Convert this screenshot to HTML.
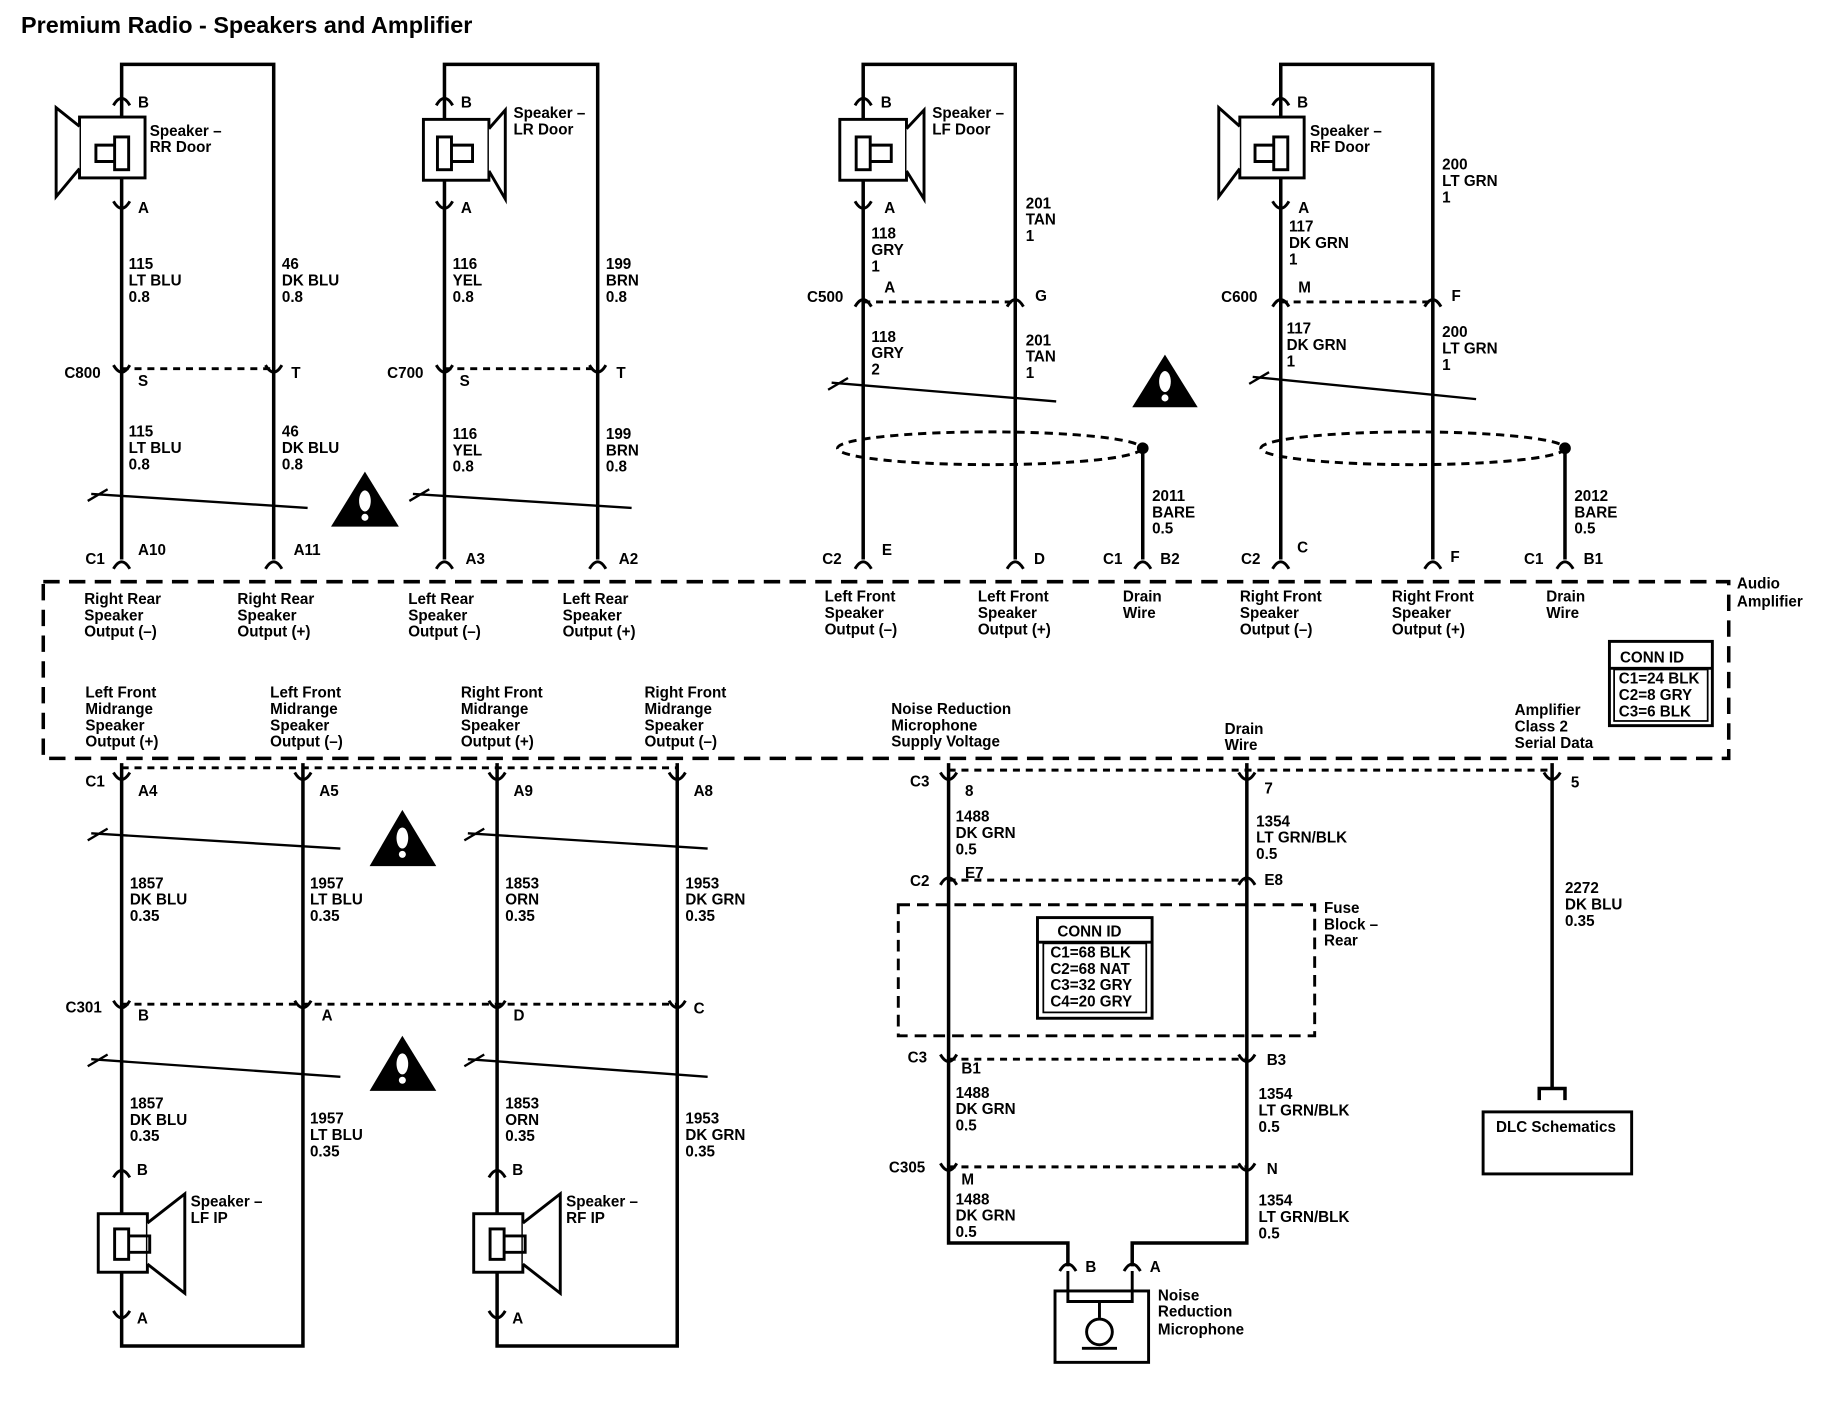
<!DOCTYPE html>
<html><head><meta charset="utf-8"><style>
html,body{margin:0;padding:0;background:#fff;}
svg{display:block}
text{font-family:"Liberation Sans",Arial,sans-serif;font-size:13px;font-weight:bold;fill:#000}
.w{stroke:#000;stroke-width:3;fill:none}
.d{stroke:#000;stroke-width:2.5;fill:none;stroke-dasharray:6 5}
.c{stroke:#000;stroke-width:2.5;fill:none}
.t{stroke:#000;stroke-width:2;fill:none}
</style></head><body>
<svg width="1834" height="1408" viewBox="0 0 1568 1203" preserveAspectRatio="none" xmlns="http://www.w3.org/2000/svg">
<text x="18" y="28" style="font-size:20px">Premium Radio - Speakers and Amplifier</text>

<path class="w" d="M104,478 V55 H234 V478"/>
<path class="w" d="M380,478 V55 H511 V478"/>
<path class="w" d="M738,478 V55 H868 V478"/>
<path class="w" d="M1095,478 V55 H1225 V478"/>
<path class="w" d="M977,383 V478"/>
<path class="w" d="M1338,383 V478"/>
<path class="w" d="M104,652 V1150 H259 V652"/>
<path class="w" d="M425,652 V1150 H579 V652"/>
<path class="w" d="M811,652 V1062 H913 V1082"/>
<path class="w" d="M1066,652 V1062 H968 V1082"/>
<path class="w" d="M1327,652 V930"/>
<path class="w" d="M1316,940 V930 H1338 V940"/>
<rect x="1268" y="950" width="127" height="53" class="c"/>

<rect x="37" y="497" width="1441" height="151" class="d" style="stroke-width:3;stroke-dasharray:14 8"/>
<rect x="768" y="773" width="356" height="112" class="d" style="stroke-dasharray:10 6"/>

<path class="d" d="M104,315 H234 M380,315 H511 M738,258 H868 M1095,258 H1225 M104,656 H579 M104,858 H579 M811,658 H1327 M811,752 H1066 M811,905 H1066 M811,997 H1066"/>

<g class="c">
<path d="M97,90 Q104,78 111,90"/><path d="M97,172 Q104,184 111,172"/>
<path d="M373,90 Q380,78 387,90"/><path d="M373,172 Q380,184 387,172"/>
<path d="M731,90 Q738,78 745,90"/><path d="M731,172 Q738,184 745,172"/>
<path d="M1088,90 Q1095,78 1102,90"/><path d="M1088,172 Q1095,184 1102,172"/>
<path d="M97,312 Q104,324 111,312"/><path d="M227,312 Q234,324 241,312"/>
<path d="M373,312 Q380,324 387,312"/><path d="M504,312 Q511,324 518,312"/>
<path d="M731,262 Q738,250 745,262"/><path d="M861,262 Q868,250 875,262"/>
<path d="M1088,262 Q1095,250 1102,262"/><path d="M1218,262 Q1225,250 1232,262"/>
<path d="M97,486 Q104,474 111,486"/><path d="M227,486 Q234,474 241,486"/>
<path d="M373,486 Q380,474 387,486"/><path d="M504,486 Q511,474 518,486"/>
<path d="M731,486 Q738,474 745,486"/><path d="M861,486 Q868,474 875,486"/>
<path d="M970,486 Q977,474 984,486"/><path d="M1088,486 Q1095,474 1102,486"/>
<path d="M1218,486 Q1225,474 1232,486"/><path d="M1331,486 Q1338,474 1345,486"/>
<path d="M97,660 Q104,672 111,660"/><path d="M252,660 Q259,672 266,660"/>
<path d="M418,660 Q425,672 432,660"/><path d="M572,660 Q579,672 586,660"/>
<path d="M804,660 Q811,672 818,660"/><path d="M1059,660 Q1066,672 1073,660"/><path d="M1320,660 Q1327,672 1334,660"/>
<path d="M804,756 Q811,744 818,756"/><path d="M1059,756 Q1066,744 1073,756"/>
<path d="M97,855 Q104,867 111,855"/><path d="M252,855 Q259,867 266,855"/>
<path d="M418,855 Q425,867 432,855"/><path d="M572,855 Q579,867 586,855"/>
<path d="M804,901 Q811,913 818,901"/><path d="M1059,901 Q1066,913 1073,901"/>
<path d="M804,994 Q811,1006 818,994"/><path d="M1059,994 Q1066,1006 1073,994"/>
<path d="M97,1006 Q104,994 111,1006"/><path d="M97,1120 Q104,1132 111,1120"/>
<path d="M418,1006 Q425,994 432,1006"/><path d="M418,1120 Q425,1132 432,1120"/>
<path d="M906,1086 Q913,1074 920,1086"/><path d="M961,1086 Q968,1074 975,1086"/>
</g>

<g class="c" fill="#fff">
<rect x="68" y="100" width="56" height="52" fill="#fff"/><path d="M68,108 L48,92 V168 L68,144" fill="#fff"/>
<rect x="98" y="117" width="12" height="28" fill="#fff"/><path d="M98,124 H82 V138 H98"/>
<rect x="362" y="102" width="56" height="52" fill="#fff"/><path d="M418,110 L432,94 V170 L418,146" fill="#fff"/>
<rect x="374" y="117" width="12" height="28" fill="#fff"/><path d="M386,124 H404 V138 H386"/>
<rect x="718" y="102" width="57" height="52" fill="#fff"/><path d="M775,110 L790,94 V170 L775,146" fill="#fff"/>
<rect x="732" y="117" width="12" height="28" fill="#fff"/><path d="M744,124 H762 V138 H744"/>
<rect x="1060" y="100" width="55" height="52" fill="#fff"/><path d="M1060,108 L1042,92 V168 L1060,144" fill="#fff"/>
<rect x="1089" y="117" width="12" height="28" fill="#fff"/><path d="M1089,124 H1073 V138 H1089"/>
<rect x="84" y="1037" width="42" height="50" fill="#fff"/><path d="M126,1045 L158,1020 V1105 L126,1080" fill="#fff"/>
<rect x="98" y="1050" width="12" height="26" fill="#fff"/><path d="M110,1056 H128 V1070 H110"/>
<rect x="405" y="1037" width="42" height="50" fill="#fff"/><path d="M447,1045 L479,1020 V1105 L447,1080" fill="#fff"/>
<rect x="419" y="1050" width="12" height="26" fill="#fff"/><path d="M431,1056 H449 V1070 H431"/>
<rect x="902" y="1103" width="80" height="61" fill="#fff"/>
<path d="M913,1086 V1112 H968 V1086"/><path d="M940,1112 V1126"/>
<circle cx="940" cy="1138" r="11" fill="#fff"/><path d="M925,1152 H955"/>
</g>

<g class="t">
<path d="M75,428 L92,418 M78,422 L263,434"/>
<path d="M350,428 L367,418 M353,422 L540,434"/>
<path d="M708,333 L725,323 M711,327 L903,343"/>
<path d="M1068,328 L1085,318 M1071,322 L1262,341"/>
<path d="M75,718 L92,708 M78,712 L291,725"/>
<path d="M397,718 L414,708 M400,712 L605,725"/>
<path d="M75,911 L92,901 M78,905 L291,920"/>
<path d="M397,911 L414,901 M400,905 L605,920"/>
</g>
<ellipse cx="846" cy="383" rx="130" ry="14" class="d" style="stroke-dasharray:7 5"/>
<ellipse cx="1208" cy="383" rx="130" ry="14" class="d" style="stroke-dasharray:7 5"/>
<circle cx="977" cy="383" r="5"/><circle cx="1338" cy="383" r="5"/>

<g>
<path d="M312,403 L283,450 H341 Z"/><path d="M996,303 L968,348 H1024 Z"/>
<path d="M344,692 L316,740 H373 Z"/><path d="M344,885 L316,932 H373 Z"/>
<g fill="#fff"><ellipse cx="312" cy="428" rx="5" ry="9"/><circle cx="312" cy="442" r="3"/>
<ellipse cx="996" cy="326" rx="5" ry="9"/><circle cx="996" cy="340" r="3"/>
<ellipse cx="344" cy="716" rx="5" ry="9"/><circle cx="344" cy="730" r="3"/>
<ellipse cx="344" cy="909" rx="5" ry="9"/><circle cx="344" cy="923" r="3"/></g>
</g>

<rect x="1376" y="548" width="88" height="72" class="c"/><path class="c" d="M1376,571 H1464"/>
<rect x="887" y="784" width="98" height="86" class="c"/><path class="c" d="M887,805 H985"/>
<rect x="892" y="806" width="88" height="59" class="t" style="stroke-width:1.5"/>
<rect x="1380" y="572" width="80" height="44" class="t" style="stroke-width:1.5"/>

<g>
<text x="118" y="92">B</text><text x="128" y="116">Speaker –</text><text x="128" y="130">RR Door</text><text x="118" y="182">A</text>
<text x="110" y="230">115</text><text x="110" y="244">LT BLU</text><text x="110" y="258">0.8</text>
<text x="55" y="323">C800</text><text x="118" y="330">S</text>
<text x="110" y="373">115</text><text x="110" y="387">LT BLU</text><text x="110" y="401">0.8</text>
<text x="73" y="482">C1</text><text x="118" y="474">A10</text>
<text x="72" y="516">Right Rear</text><text x="72" y="530">Speaker</text><text x="72" y="544">Output (–)</text>
<text x="241" y="230">46</text><text x="241" y="244">DK BLU</text><text x="241" y="258">0.8</text>
<text x="249" y="323">T</text>
<text x="241" y="373">46</text><text x="241" y="387">DK BLU</text><text x="241" y="401">0.8</text>
<text x="251" y="474">A11</text>
<text x="203" y="516">Right Rear</text><text x="203" y="530">Speaker</text><text x="203" y="544">Output (+)</text>
<text x="394" y="92">B</text><text x="439" y="101">Speaker –</text><text x="439" y="115">LR Door</text><text x="394" y="182">A</text>
<text x="387" y="230">116</text><text x="387" y="244">YEL</text><text x="387" y="258">0.8</text>
<text x="331" y="323">C700</text><text x="393" y="330">S</text>
<text x="387" y="375">116</text><text x="387" y="389">YEL</text><text x="387" y="403">0.8</text>
<text x="398" y="482">A3</text>
<text x="349" y="516">Left Rear</text><text x="349" y="530">Speaker</text><text x="349" y="544">Output (–)</text>
<text x="518" y="230">199</text><text x="518" y="244">BRN</text><text x="518" y="258">0.8</text>
<text x="527" y="323">T</text>
<text x="518" y="375">199</text><text x="518" y="389">BRN</text><text x="518" y="403">0.8</text>
<text x="529" y="482">A2</text>
<text x="481" y="516">Left Rear</text><text x="481" y="530">Speaker</text><text x="481" y="544">Output (+)</text>

<text x="753" y="92">B</text><text x="797" y="101">Speaker –</text><text x="797" y="115">LF Door</text><text x="756" y="182">A</text>
<text x="745" y="204">118</text><text x="745" y="218">GRY</text><text x="745" y="232">1</text>
<text x="690" y="258">C500</text><text x="756" y="250">A</text>
<text x="745" y="292">118</text><text x="745" y="306">GRY</text><text x="745" y="320">2</text>
<text x="703" y="482">C2</text><text x="754" y="474">E</text>
<text x="705" y="514">Left Front</text><text x="705" y="528">Speaker</text><text x="705" y="542">Output (–)</text>
<text x="877" y="178">201</text><text x="877" y="192">TAN</text><text x="877" y="206">1</text>
<text x="885" y="257">G</text>
<text x="877" y="295">201</text><text x="877" y="309">TAN</text><text x="877" y="323">1</text>
<text x="884" y="482">D</text>
<text x="836" y="514">Left Front</text><text x="836" y="528">Speaker</text><text x="836" y="542">Output (+)</text>
<text x="985" y="428">2011</text><text x="985" y="442">BARE</text><text x="985" y="456">0.5</text>
<text x="943" y="482">C1</text><text x="992" y="482">B2</text>
<text x="960" y="514">Drain</text><text x="960" y="528">Wire</text>

<text x="1109" y="92">B</text><text x="1120" y="116">Speaker –</text><text x="1120" y="130">RF Door</text><text x="1110" y="182">A</text>
<text x="1102" y="198">117</text><text x="1102" y="212">DK GRN</text><text x="1102" y="226">1</text>
<text x="1044" y="258">C600</text><text x="1110" y="250">M</text>
<text x="1100" y="285">117</text><text x="1100" y="299">DK GRN</text><text x="1100" y="313">1</text>
<text x="1061" y="482">C2</text><text x="1109" y="472">C</text>
<text x="1060" y="514">Right Front</text><text x="1060" y="528">Speaker</text><text x="1060" y="542">Output (–)</text>
<text x="1233" y="145">200</text><text x="1233" y="159">LT GRN</text><text x="1233" y="173">1</text>
<text x="1241" y="257">F</text>
<text x="1233" y="288">200</text><text x="1233" y="302">LT GRN</text><text x="1233" y="316">1</text>
<text x="1240" y="480">F</text>
<text x="1190" y="514">Right Front</text><text x="1190" y="528">Speaker</text><text x="1190" y="542">Output (+)</text>
<text x="1346" y="428">2012</text><text x="1346" y="442">BARE</text><text x="1346" y="456">0.5</text>
<text x="1303" y="482">C1</text><text x="1354" y="482">B1</text>
<text x="1322" y="514">Drain</text><text x="1322" y="528">Wire</text>
<text x="1485" y="503">Audio</text><text x="1485" y="518">Amplifier</text>
<text x="1385" y="566">CONN ID</text><text x="1384" y="584">C1=24 BLK</text><text x="1384" y="598">C2=8 GRY</text><text x="1384" y="612">C3=6 BLK</text>

<text x="73" y="596">Left Front</text><text x="73" y="610">Midrange</text><text x="73" y="624">Speaker</text><text x="73" y="638">Output (+)</text>
<text x="231" y="596">Left Front</text><text x="231" y="610">Midrange</text><text x="231" y="624">Speaker</text><text x="231" y="638">Output (–)</text>
<text x="394" y="596">Right Front</text><text x="394" y="610">Midrange</text><text x="394" y="624">Speaker</text><text x="394" y="638">Output (+)</text>
<text x="551" y="596">Right Front</text><text x="551" y="610">Midrange</text><text x="551" y="624">Speaker</text><text x="551" y="638">Output (–)</text>
<text x="762" y="610">Noise Reduction</text><text x="762" y="624">Microphone</text><text x="762" y="638">Supply Voltage</text>
<text x="1047" y="627">Drain</text><text x="1047" y="641">Wire</text>
<text x="1295" y="611">Amplifier</text><text x="1295" y="625">Class 2</text><text x="1295" y="639">Serial Data</text>

<text x="73" y="672">C1</text><text x="118" y="680">A4</text><text x="273" y="680">A5</text><text x="439" y="680">A9</text><text x="593" y="680">A8</text>
<text x="111" y="759">1857</text><text x="111" y="773">DK BLU</text><text x="111" y="787">0.35</text>
<text x="265" y="759">1957</text><text x="265" y="773">LT BLU</text><text x="265" y="787">0.35</text>
<text x="432" y="759">1853</text><text x="432" y="773">ORN</text><text x="432" y="787">0.35</text>
<text x="586" y="759">1953</text><text x="586" y="773">DK GRN</text><text x="586" y="787">0.35</text>
<text x="56" y="865">C301</text><text x="118" y="872">B</text><text x="275" y="872">A</text><text x="439" y="872">D</text><text x="593" y="866">C</text>
<text x="111" y="947">1857</text><text x="111" y="961">DK BLU</text><text x="111" y="975">0.35</text>
<text x="265" y="960">1957</text><text x="265" y="974">LT BLU</text><text x="265" y="988">0.35</text>
<text x="432" y="947">1853</text><text x="432" y="961">ORN</text><text x="432" y="975">0.35</text>
<text x="586" y="960">1953</text><text x="586" y="974">DK GRN</text><text x="586" y="988">0.35</text>
<text x="117" y="1004">B</text><text x="163" y="1031">Speaker –</text><text x="163" y="1045">LF IP</text><text x="117" y="1131">A</text>
<text x="438" y="1004">B</text><text x="484" y="1031">Speaker –</text><text x="484" y="1045">RF IP</text><text x="438" y="1131">A</text>

<text x="778" y="672">C3</text><text x="825" y="680">8</text>
<text x="817" y="702">1488</text><text x="817" y="716">DK GRN</text><text x="817" y="730">0.5</text>
<text x="778" y="757">C2</text><text x="825" y="750">E7</text>
<text x="1081" y="678">7</text>
<text x="1074" y="706">1354</text><text x="1074" y="720">LT GRN/BLK</text><text x="1074" y="734">0.5</text>
<text x="1081" y="756">E8</text>
<text x="1132" y="780">Fuse</text><text x="1132" y="794">Block –</text><text x="1132" y="808">Rear</text>
<text x="904" y="800">CONN ID</text><text x="898" y="818">C1=68 BLK</text><text x="898" y="832">C2=68 NAT</text><text x="898" y="846">C3=32 GRY</text><text x="898" y="860">C4=20 GRY</text>
<text x="776" y="908">C3</text><text x="822" y="917">B1</text>
<text x="817" y="938">1488</text><text x="817" y="952">DK GRN</text><text x="817" y="966">0.5</text>
<text x="1083" y="910">B3</text>
<text x="1076" y="939">1354</text><text x="1076" y="953">LT GRN/BLK</text><text x="1076" y="967">0.5</text>
<text x="760" y="1002">C305</text><text x="822" y="1012">M</text><text x="1083" y="1003">N</text>
<text x="817" y="1029">1488</text><text x="817" y="1043">DK GRN</text><text x="817" y="1057">0.5</text>
<text x="1076" y="1030">1354</text><text x="1076" y="1044">LT GRN/BLK</text><text x="1076" y="1058">0.5</text>
<text x="928" y="1087">B</text><text x="983" y="1087">A</text>
<text x="990" y="1111">Noise</text><text x="990" y="1125">Reduction</text><text x="990" y="1140">Microphone</text>
<text x="1343" y="673">5</text>
<text x="1338" y="763">2272</text><text x="1338" y="777">DK BLU</text><text x="1338" y="791">0.35</text>
<text x="1279" y="967">DLC Schematics</text>
</g>
</svg>
</body></html>
